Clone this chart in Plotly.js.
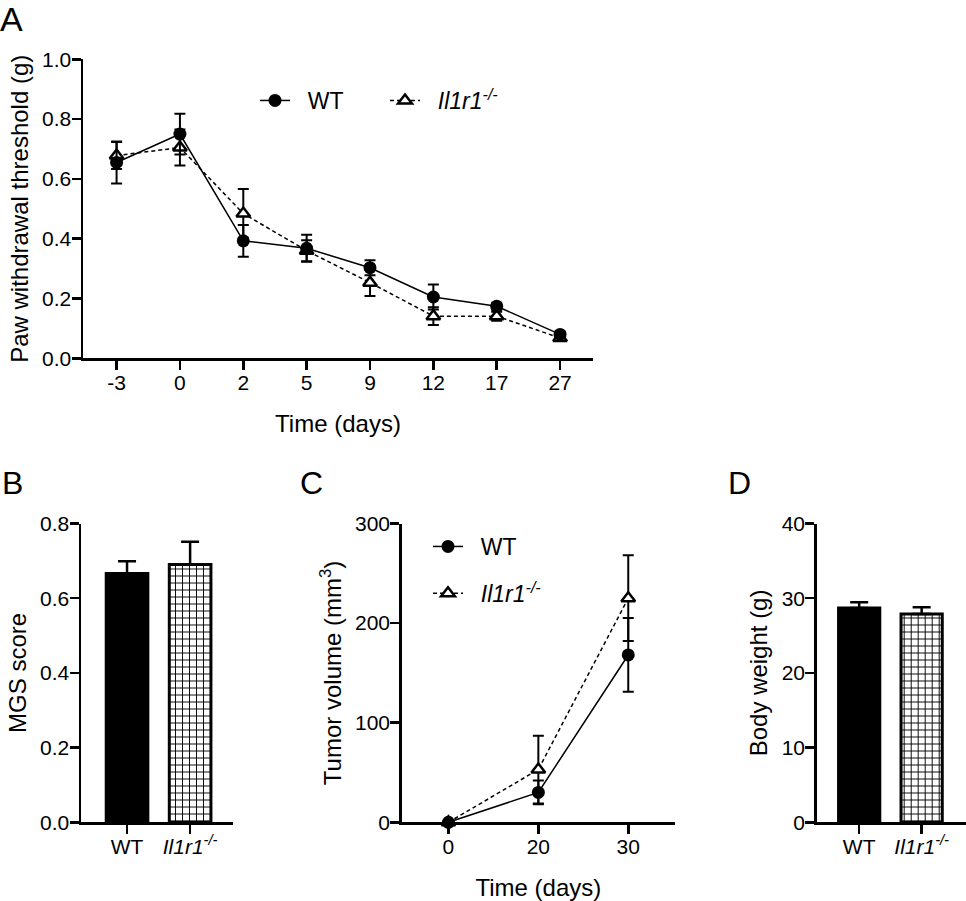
<!DOCTYPE html>
<html>
<head>
<meta charset="utf-8">
<script src="https://cdn.plot.ly/plotly-3.0.1.min.js"></script>
<style>html,body{margin:0;padding:0;background:#fff;}#chart{width:966px;height:901px;}</style>
</head>
<body>
<div id="chart"></div>
<script>
// ---------- Data ----------
// Panel A: paw withdrawal threshold (g)
const daysA = ["-3", "0", "2", "5", "9", "12", "17", "27"];
const wtA = [0.655, 0.750, 0.393, 0.368, 0.303, 0.205, 0.174, 0.080];
const wtAErr = [0.070, 0.068, 0.053, 0.045, 0.025, 0.042, 0.012, 0.010];
const koA = [0.678, 0.705, 0.484, 0.360, 0.253, 0.141, 0.141, 0.068];
const koAErr = [0.045, 0.060, 0.082, 0.035, 0.045, 0.030, 0.015, 0.010];

// Panel B: MGS score
const genotypes = ["WT", "Il1r1-/-"];
const genotypeLabels = ["WT", "<i>Il1r1<sup>-/-</sup></i>"];
const mgs = [0.666, 0.690];
const mgsErr = [0.033, 0.061];

// Panel C: tumor volume (mm3)
const daysC = ["0", "20", "30"];
const wtC = [0, 30, 168];
const wtCErr = [0, 12, 37];
const koC = [0, 53, 225];
const koCErr = [0, 34, 43];

// Panel D: body weight (g)
const bw = [28.7, 27.9];
const bwErr = [0.75, 0.9];

const GAP = "\u00a0\u00a0";
const wtName = GAP + "WT";
const koName = GAP + "<i>Il1r1<sup>-/-</sup></i>";

// ---------- Styling ----------
const FONT = 'Arial, "Liberation Sans", Helvetica, sans-serif';
const W = 966, H = 901;
const px = v => v / W;
const py = v => 1 - v / H;

function errBar(arr, w) {
  return {type: "data", array: arr, visible: true, color: "#000", thickness: 2, width: w};
}
function upErr(arr, w) {
  return {type: "data", symmetric: false, array: arr, arrayminus: arr.map(() => 0),
          visible: true, color: "#000", thickness: 2.5, width: w};
}
function wtLine(x, y, err, xa, ya, legend, grp) {
  return {type: "scatter", mode: "lines+markers", x: x, y: y, name: wtName,
    xaxis: xa, yaxis: ya, legend: legend, legendrank: 1, legendgroup: grp, cliponaxis: false,
    line: {color: "#000", width: 1.5},
    marker: {symbol: "circle", size: 13, color: "#000"},
    error_y: errBar(err, 5.5)};
}
function koLine(x, y, err, xa, ya, legend, grp) {
  return {type: "scatter", mode: "lines+markers", x: x, y: y, name: koName,
    xaxis: xa, yaxis: ya, legend: legend, legendrank: 2, legendgroup: grp, cliponaxis: false,
    line: {color: "#000", width: 1.5, dash: "4px,3px"},
    marker: {symbol: "triangle-up", size: 12, color: "#fff", line: {color: "#000", width: 2.5}},
    error_y: errBar(err, 5.5)};
}
// one bar per trace so each genotype gets its own fill
function barTrace(i, y, err, xa, ya) {
  const isKO = i === 1;
  const marker = {color: isKO ? "#fff" : "#000", line: {color: "#000", width: 3}};
  if (isKO) marker.pattern = {shape: "+", fgcolor: "#000", bgcolor: "#fff", size: 7, solidity: 0.25, fillmode: "replace"};
  return {type: "bar", x: [genotypes[i]], y: [y[i]], xaxis: xa, yaxis: ya, showlegend: false,
    width: 0.66, cliponaxis: false, marker: marker,
    error_y: upErr([err[i]], 9)};
}

const data = [
  koLine(daysA, koA, koAErr, "x", "y", "legend", "koA"),
  wtLine(daysA, wtA, wtAErr, "x", "y", "legend", "wtA"),
  barTrace(0, mgs, mgsErr, "x2", "y2"),
  barTrace(1, mgs, mgsErr, "x2", "y2"),
  koLine(daysC, koC, koCErr, "x3", "y3", "legend2", "koC"),
  wtLine(daysC, wtC, wtCErr, "x3", "y3", "legend2", "wtC"),
  barTrace(0, bw, bwErr, "x4", "y4"),
  barTrace(1, bw, bwErr, "x4", "y4")
];

const axisBase = {
  showline: true, linecolor: "#000", linewidth: 2.5, mirror: false,
  ticks: "outside", ticklen: 9, tickwidth: 2.5, tickcolor: "#000",
  showgrid: false, zeroline: false, fixedrange: true,
  tickfont: {family: FONT, size: 21, color: "#000"}
};
const titleFont = {family: FONT, size: 24, color: "#000"};

function xCat(domain, range, anchor, cats, labels, title) {
  const a = Object.assign({}, axisBase, {
    domain: domain, range: range, anchor: anchor, type: "category",
    categoryorder: "array", categoryarray: cats,
    tickmode: "array", tickvals: cats, ticktext: labels || cats,
    ticklabelstandoff: -5
  });
  if (title) a.title = {text: title, font: titleFont, standoff: 22};
  return a;
}
function yLin(domain, range, anchor, tickvals, fmt, title) {
  return Object.assign({}, axisBase, {
    domain: domain, range: range, anchor: anchor,
    tickmode: "array", tickvals: tickvals, tickformat: fmt,
    ticklabelstandoff: -4,
    title: {text: title, font: titleFont, standoff: 7}
  });
}

const bottomDom = [py(822.3), py(523.5)];

const layout = {
  width: W, height: H,
  margin: {l: 0, r: 0, t: 0, b: 0},
  paper_bgcolor: "#fff", plot_bgcolor: "rgba(0,0,0,0)",
  font: {family: FONT, color: "#000"},
  barmode: "overlay",
  showlegend: true,
  xaxis: xCat([px(83), px(593)], [-0.53, 7.52], "y", daysA, null, "Time (days)"),
  yaxis: yLin([py(358.3), py(59.3)], [0, 1], "x", [0, 0.2, 0.4, 0.6, 0.8, 1.0], ".1f", "Paw withdrawal threshold (g)"),
  xaxis2: xCat([px(81), px(233)], [-0.73, 1.68], "y2", genotypes, genotypeLabels, null),
  yaxis2: yLin(bottomDom, [0, 0.8], "x2", [0, 0.2, 0.4, 0.6, 0.8], ".1f", "MGS score"),
  xaxis3: xCat([px(401.7), px(675)], [-0.52, 2.52], "y3", daysC, null, "Time (days)"),
  yaxis3: yLin(bottomDom, [0, 300], "x3", [0, 100, 200, 300], "d", "Tumor volume (mm<sup>3</sup>)"),
  xaxis4: xCat([px(816.7), px(966)], [-0.68, 1.71], "y4", genotypes, genotypeLabels, null),
  yaxis4: yLin(bottomDom, [0, 40], "x4", [0, 10, 20, 30, 40], "d", "Body weight (g)"),
  legend: {x: px(255), y: py(79), xanchor: "left", yanchor: "top", orientation: "h",
    font: {family: FONT, size: 23, color: "#000"}, bgcolor: "rgba(0,0,0,0)",
    entrywidth: 85},
  legend2: {x: px(428), y: py(525), xanchor: "left", yanchor: "top", orientation: "v",
    font: {family: FONT, size: 23, color: "#000"}, bgcolor: "rgba(0,0,0,0)",
    traceorder: "grouped", tracegroupgap: 14},
  annotations: [
    {text: "A", x: px(-2), y: py(-2), xref: "paper", yref: "paper", xanchor: "left", yanchor: "top", showarrow: false, font: {family: FONT, size: 34, color: "#000"}},
    {text: "B", x: px(0), y: py(463), xref: "paper", yref: "paper", xanchor: "left", yanchor: "top", showarrow: false, font: {family: FONT, size: 32, color: "#000"}},
    {text: "C", x: px(298), y: py(463), xref: "paper", yref: "paper", xanchor: "left", yanchor: "top", showarrow: false, font: {family: FONT, size: 32, color: "#000"}},
    {text: "D", x: px(726), y: py(463), xref: "paper", yref: "paper", xanchor: "left", yanchor: "top", showarrow: false, font: {family: FONT, size: 32, color: "#000"}}
  ]
};

Plotly.newPlot("chart", data, layout, {staticPlot: true, displayModeBar: false});
</script>
</body>
</html>
